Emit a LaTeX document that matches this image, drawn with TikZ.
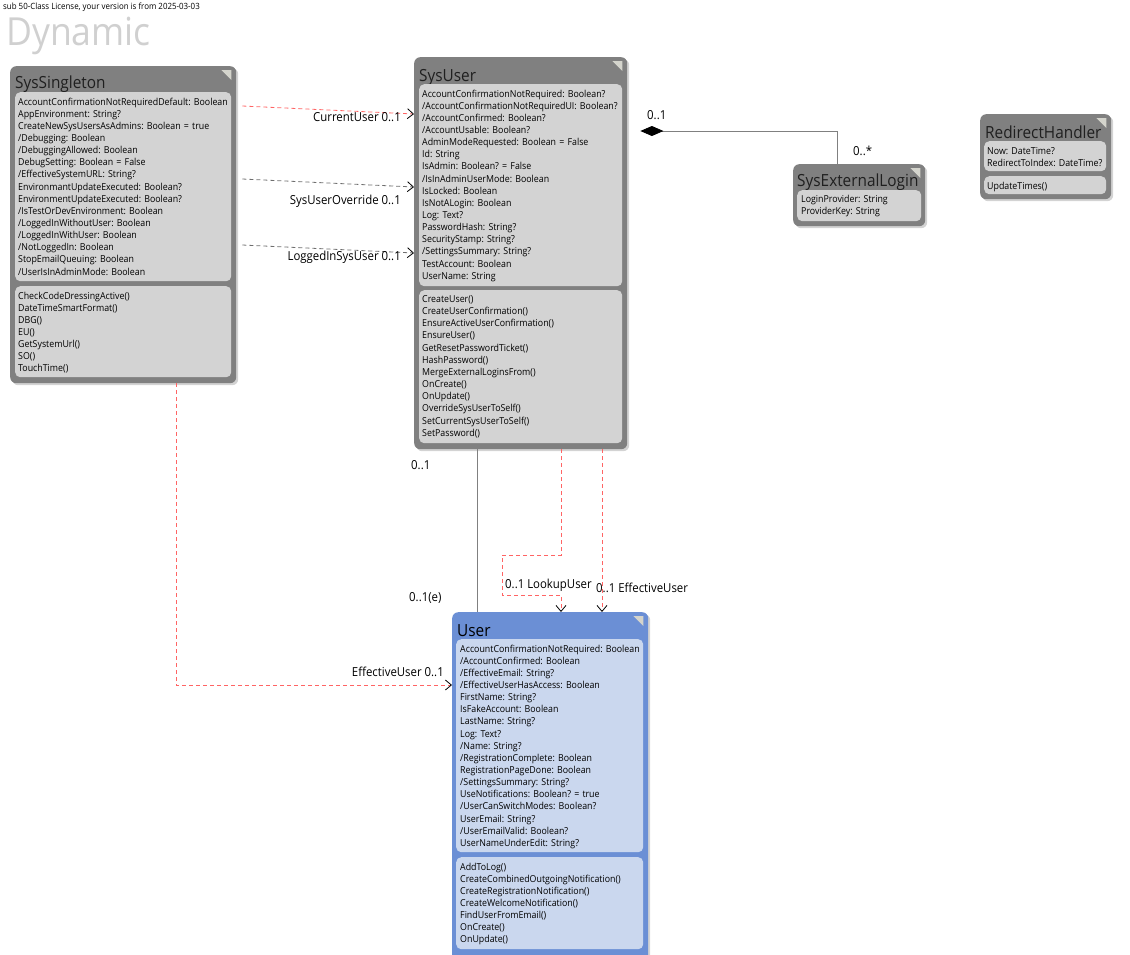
\documentclass[tikz,border=0pt]{standalone}
\usepackage{fontspec}
\setmainfont[FakeStretch=0.92]{Open Sans}
\usetikzlibrary{arrows.meta,shadows}
\frenchspacing
\definecolor{boxgray}{HTML}{808080}
\definecolor{compgray}{HTML}{D3D3D3}
\definecolor{userblue}{HTML}{6B8FD5}
\definecolor{userlight}{HTML}{CAD7EE}
\definecolor{linkred}{HTML}{FF6464}
\definecolor{linkgray}{HTML}{6E6E6E}
\definecolor{cornergray}{HTML}{D4D4CC}
\definecolor{dynamicgray}{HTML}{D0D0D0}
\newcommand{\classcorner}[1]{%
  \fill[cornergray] ([shift={(-15,4)}]#1.north east) -- ([shift={(-5,4)}]#1.north east) -- ([shift={(-5,14)}]#1.north east) -- cycle;}

\begin{document}
\begin{tikzpicture}[x=1pt,y=-1pt,
  classbox/.style={fill=boxgray, rounded corners=6pt, anchor=north west, inner sep=0pt,
    drop shadow={shadow xshift=2pt, shadow yshift=-2pt, opacity=0.35}},
  userbox/.style={classbox, fill=userblue},
  comp/.style={fill=compgray, rounded corners=5pt, anchor=north west, inner sep=0pt},
  usercomp/.style={comp, fill=userlight},
  classtitle/.style={anchor=base west, inner sep=0pt, text=black!88, font={\fontsize{16.7}{19}\selectfont}},
  members/.style={anchor=base west, inner sep=0pt, align=left, text width=230pt, font={\fontsize{9.6}{12.15}\selectfont}},
  lbl/.style={inner sep=0pt, font={\fontsize{12.4}{14}\selectfont}},
  redlink/.style={draw=linkred, line width=0.8pt, dash pattern=on 4pt off 3pt},
  graylink/.style={draw=linkgray, line width=0.8pt, dash pattern=on 4pt off 3pt},
  assoc/.style={draw=boxgray, line width=0.8pt},
  openv/.style={-{Straight Barb[length=6pt,width=10pt,color=black,line width=0.8pt]}}
]
\clip (0,0) rectangle (1130,954);

%% header
\node[anchor=base west, inner sep=0pt, font={\fontsize{8.6}{10}\selectfont}] (licence) at (3,9) {sub 50-Class License, your version is from 2025-03-03};
\node[anchor=base west, inner sep=0pt, text=dynamicgray, font={\fontsize{38.7}{42}\selectfont}] (dynamic) at (6,45) {Dynamic};

%% SysSingleton
\node[classbox, minimum width=226, minimum height=317] (singleton) at (10,66) {};
\classcorner{singleton}
\node[classtitle] (singletontitle) at (15,88) {SysSingleton};
\node[comp, minimum width=216, minimum height=189] (singletonattr) at (15,92) {};
\node[comp, minimum width=216, minimum height=91] (singletonops) at (15,286) {};
\node[members] (singletonattrtext) at (18,105) {AccountConfirmationNotRequiredDefault: Boolean\\AppEnvironment: String?\\CreateNewSysUsersAsAdmins: Boolean = true\\/Debugging: Boolean\\/DebuggingAllowed: Boolean\\DebugSetting: Boolean = False\\/EffectiveSystemURL: String?\\EnvironmantUpdateExecuted: Boolean?\\EnvironmentUpdateExecuted: Boolean?\\/IsTestOrDevEnvironment: Boolean\\/LoggedInWithoutUser: Boolean\\/LoggedInWithUser: Boolean\\/NotLoggedIn: Boolean\\StopEmailQueuing: Boolean\\/UserIsInAdminMode: Boolean};
\node[members] (singletonopstext) at (18,299) {CheckCodeDressingActive()\\DateTimeSmartFormat()\\DBG()\\EU()\\GetSystemUrl()\\SO()\\TouchTime()};

%% SysUser
\node[classbox, minimum width=213, minimum height=392] (sysuser) at (414,57) {};
\classcorner{sysuser}
\node[classtitle] (sysusertitle) at (419,81) {SysUser};
\node[comp, minimum width=203, minimum height=202] (sysuserattr) at (419,84) {};
\node[comp, minimum width=203, minimum height=153] (sysuserops) at (419,290) {};
\node[members] (sysuserattrtext) at (422,97) {AccountConfirmationNotRequired: Boolean?\\/AccountConfirmationNotRequiredUI: Boolean?\\/AccountConfirmed: Boolean?\\/AccountUsable: Boolean?\\AdminModeRequested: Boolean = False\\Id: String\\IsAdmin: Boolean? = False\\/IsInAdminUserMode: Boolean\\IsLocked: Boolean\\IsNotALogin: Boolean\\Log: Text?\\PasswordHash: String?\\SecurityStamp: String?\\/SettingsSummary: String?\\TestAccount: Boolean\\UserName: String};
\node[members] (sysuseropstext) at (422,302.5) {CreateUser()\\CreateUserConfirmation()\\EnsureActiveUserConfirmation()\\EnsureUser()\\GetResetPasswordTicket()\\HashPassword()\\MergeExternalLoginsFrom()\\OnCreate()\\OnUpdate()\\OverrideSysUserToSelf()\\SetCurrentSysUserToSelf()\\SetPassword()};

%% SysExternalLogin
\node[classbox, minimum width=132, minimum height=62] (extlogin) at (793,164) {};
\classcorner{extlogin}
\node[classtitle] (extlogintitle) at (797,186) {SysExternalLogin};
\node[comp, minimum width=124, minimum height=31] (extloginattr) at (797,190) {};
\node[members] (extloginattrtext) at (801,202) {LoginProvider: String\\ProviderKey: String};

%% RedirectHandler
\node[classbox, minimum width=131, minimum height=85] (redirect) at (980,114) {};
\classcorner{redirect}
\node[classtitle] (redirecttitle) at (985,138) {RedirectHandler};
\node[comp, minimum width=122, minimum height=30] (redirectattr) at (984,141) {};
\node[comp, minimum width=122, minimum height=18] (redirectops) at (984,176) {};
\node[members] (redirectattrtext) at (987,154) {Now: DateTime?\\RedirectToIndex: DateTime?};
\node[members] (redirectopstext) at (987,189) {UpdateTimes()};

%% User
\node[userbox, minimum width=196, minimum height=350] (user) at (452,612) {};
\classcorner{user}
\node[classtitle, text=black] (usertitle) at (457,636) {User};
\node[usercomp, minimum width=187, minimum height=213] (userattr) at (456,639) {};
\node[usercomp, minimum width=187, minimum height=92] (userops) at (456,857) {};
\node[members] (userattrtext) at (460,652) {AccountConfirmationNotRequired: Boolean\\/AccountConfirmed: Boolean\\/EffectiveEmail: String?\\/EffectiveUserHasAccess: Boolean\\FirstName: String?\\IsFakeAccount: Boolean\\LastName: String?\\Log: Text?\\/Name: String?\\/RegistrationComplete: Boolean\\RegistrationPageDone: Boolean\\/SettingsSummary: String?\\UseNotifications: Boolean? = true\\/UserCanSwitchModes: Boolean?\\UserEmail: String?\\/UserEmailValid: Boolean?\\UserNameUnderEdit: String?};
\node[members] (useropstext) at (460,870) {AddToLog()\\CreateCombinedOutgoingNotification()\\CreateRegistrationNotification()\\CreateWelcomeNotification()\\FindUserFromEmail()\\OnCreate()\\OnUpdate()};

%% connectors singleton -> sysuser
\draw[redlink, openv] ([shift={(6,40)}]singleton.north east) -- ([shift={(0,57)}]sysuser.north west);
\draw[graylink, openv] ([shift={(6,113)}]singleton.north east) -- ([shift={(0,130)}]sysuser.north west);
\draw[graylink, openv] ([shift={(6,179)}]singleton.north east) -- ([shift={(0,196)}]sysuser.north west);
\node[lbl, anchor=base east] (lblcurrent) at (401,121) {CurrentUser 0..1};
\node[lbl, anchor=base east] (lbloverride) at (401,204) {SysUserOverride 0..1};
\node[lbl, anchor=base east] (lblloggedin) at (401,260) {LoggedInSysUser 0..1};

%% composition sysuser <>- extlogin
\draw[assoc, {Diamond[length=23pt,width=10pt,fill=black,color=black]}-] ([shift={(13,74)}]sysuser.north east) -| ([xshift=-22]extlogin.north);
\node[lbl, anchor=base west] (lblcompone) at (647,119) {0..1};
\node[lbl, anchor=base west] (lblcompmany) at (853,155) {0..*};

%% sysuser -- user
\draw[assoc] ([xshift=63]sysuser.south west) -- ([xshift=25]user.north west);
\node[lbl, anchor=base west] (lblsysuserone) at (411,469) {0..1};
\node[lbl, anchor=base west] (lbluserone) at (409,601) {0..1(e)};

\draw[redlink, openv] ([xshift=147]sysuser.south west) -- ++(0,106) -- ++(-59,0) -- ++(0,40) -| ([xshift=109]user.north west);
\node[lbl, anchor=base west] (lbllookup) at (505,588) {0..1 LookupUser};
\draw[redlink, openv] ([xshift=188]sysuser.south west) -- ([xshift=150]user.north west);
\node[lbl, anchor=base west] (lbleffective) at (596,592) {0..1 EffectiveUser};

%% singleton -> user
\draw[redlink, openv] ([xshift=166]singleton.south west) |- ([yshift=-73]user.north west);
\node[lbl, anchor=base east] (lblsingletoneffective) at (444,676) {EffectiveUser 0..1};
\end{tikzpicture}
\end{document}
